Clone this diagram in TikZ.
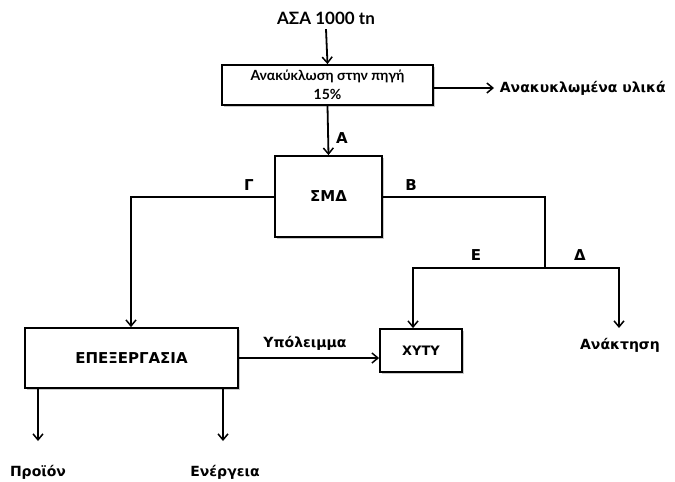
\documentclass[tikz,border=0pt]{standalone}
\usepackage{fontspec}
\newfontfamily\calb{Lato Bold}
\newfontfamily\lblfont{DejaVu Sans Bold}
\usetikzlibrary{arrows.meta,shadows}
\begin{document}
\begin{tikzpicture}[x=1pt,y=-1pt,
  line width=1.8pt,
  flow/.style={-{Straight Barb[length=6pt,width=10pt,line width=1.5pt]}},
  boxnode/.style={draw,fill=white,inner sep=0pt,
    drop shadow={shadow xshift=1.5pt,shadow yshift=-1.5pt,opacity=0.35,fill=black!60}},
  calibri/.style={font=\calb\fontsize{14}{19}\selectfont},
  lbl/.style={font=\lblfont\fontsize{14}{17}\selectfont,inner sep=0pt},
  greek/.style={font=\lblfont\fontsize{15}{17}\selectfont,inner sep=0pt}]
\useasboundingbox (0,0) rectangle (675,482);

% sources and boxes
\node[font=\calb\fontsize{17}{22}\selectfont,inner sep=0pt] (src) at (326,18) {ΑΣΑ 1000 tn};
\node[boxnode,calibri,minimum width=211pt,minimum height=40pt,align=center] (rec) at (327.5,85)
  {Ανακύκλωση στην πηγή\\15\%};
\node[boxnode,minimum width=107pt,minimum height=81pt,lbl,font=\lblfont\fontsize{15}{18}\selectfont] (smd) at (328.5,196.5) {ΣΜΔ};
\node[boxnode,minimum width=213pt,minimum height=60pt,lbl,font=\lblfont\fontsize{15}{18}\selectfont] (proc) at (131.5,358) {ΕΠΕΞΕΡΓΑΣΙΑ};
\node[boxnode,minimum width=82pt,minimum height=43pt,lbl,font=\lblfont\fontsize{13}{15}\selectfont] (xyty) at (421,350.5) {XYTY};

% outputs
\node[lbl,anchor=west] (recy) at (499,88) {Ανακυκλωμένα υλικά};
\node[lbl] (anak) at (620,345) {Ανάκτηση};
\node[lbl] (prod) at (38,472) {Προϊόν};
\node[lbl] (ener) at (225,472) {Ενέργεια};
\node[lbl] (res) at (305,343) {Υπόλειμμα};

% stream labels
\node[greek] (lA) at (342,138) {A};
\node[greek] (lG) at (249,185) {Γ};
\node[greek] (lB) at (411,185) {Β};
\node[greek] (lE) at (476,255) {Ε};
\node[greek] (lD) at (580,255) {Δ};

% junction points
\coordinate (recEnd) at (494,88);
\coordinate (gTurn) at (131,197);
\coordinate (bTurn) at (545,197);
\coordinate (split) at (545,268);
\coordinate (eTurn) at (413,268);
\coordinate (dTurn) at (619,268);
\coordinate (dEnd) at (619,328);
\coordinate (pL) at (38,388);
\coordinate (pLend) at (38,441);
\coordinate (pR) at (223,388);
\coordinate (pRend) at (223,441);

% connectors
\draw[flow] (src.south) ++(0,4) -- (rec.north);
\draw[flow] (rec.east |- recEnd) -- (recEnd);
\draw[flow] (rec.south) -- (smd.north);
\draw[flow] (smd.west |- gTurn) -- (gTurn) -- (proc.north -| gTurn);
\draw (smd.east |- bTurn) -- (bTurn) -- (split);
\draw[flow] (split) -- (eTurn) -- (xyty.north -| eTurn);
\draw[flow] (split) -- (dTurn) -- (dEnd);
\draw[flow] (proc.east) -- (xyty.west |- proc.east);
\draw[flow] (pL) -- (pLend);
\draw[flow] (pR) -- (pRend);
\end{tikzpicture}
\end{document}
